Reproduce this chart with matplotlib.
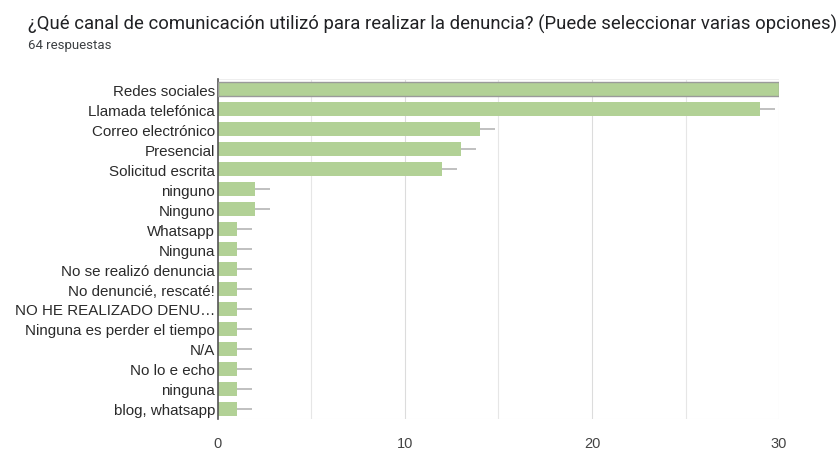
import numpy as np
import matplotlib.pyplot as plt

categories = [
    "Redes sociales",
    "Llamada telefónica",
    "Correo electrónico",
    "Presencial",
    "Solicitud escrita",
    "ninguno",
    "Ninguno",
    "Whatsapp",
    "Ninguna",
    "No se realizó denuncia",
    "No denuncié, rescaté!",
    "NO HE REALIZADO DENU…",
    "Ninguna es perder el tiempo",
    "N/A",
    "No lo e echo",
    "ninguna",
    "blog, whatsapp",
]
counts = [30, 29, 14, 13, 12, 2, 2, 1, 1, 1, 1, 1, 1, 1, 1, 1, 1]
x_ticks = [0, 10, 20, 30]

bar_color = "#b2d196"
y = np.arange(len(categories))

fig = plt.figure(figsize=(8.39, 4.60), dpi=100)
ax = fig.add_axes([0.2598, 0.087, 0.6687, 0.739])

# light grid
for gx in range(5, 31, 5):
    ax.axvline(gx, color="#e6e6e6" if gx % 10 else "#dcdcdc", lw=0.8, zorder=0)
ax.axhline(len(categories) - 0.5, color="#eeeeee", lw=0.8, zorder=0)
ax.axhline(-0.5, color="#eeeeee", lw=0.8, zorder=0)

ax.barh(y, counts, height=0.66, color=bar_color, zorder=2)
# highlighted top bar
ax.barh(y[0], counts[0], height=0.66, color=bar_color, edgecolor="#9a9a9a",
        lw=1.0, zorder=3)
# grey leader lines past the bar end
vals = np.array(counts[1:], dtype=float)
ax.hlines(y[1:], vals, vals + 0.8, color="#b5b5b5", lw=1.2, zorder=1)

ax.set_xlim(0, 30)
ax.set_ylim(len(categories) - 0.5, -0.5)
ax.set_yticks(y)
ax.set_yticklabels(categories, fontsize=10.9, family="Liberation Sans", color="#2a2a2a")
ax.set_xticks(x_ticks)
ax.set_xticklabels([str(t) for t in x_ticks], fontsize=10.5,
                   family="Liberation Sans", color="#444444")
ax.tick_params(axis="both", length=0, pad=2)
ax.tick_params(axis="x", pad=12)
for side in ["top", "right", "bottom"]:
    ax.spines[side].set_visible(False)
ax.spines["left"].set_color("#555555")
ax.spines["left"].set_linewidth(1.2)

fig.text(0.033, 0.946, "¿Qué canal de comunicación utilizó para realizar la denuncia? (Puede seleccionar varias opciones)",
         fontsize=13.3, family="Roboto", color="#202124", va="center", ha="left")
fig.text(0.033, 0.901, "64 respuestas", fontsize=9.5, family="Roboto",
         color="#3c4043", va="center", ha="left")

fig.savefig("out.png", dpi=100, facecolor="white")
